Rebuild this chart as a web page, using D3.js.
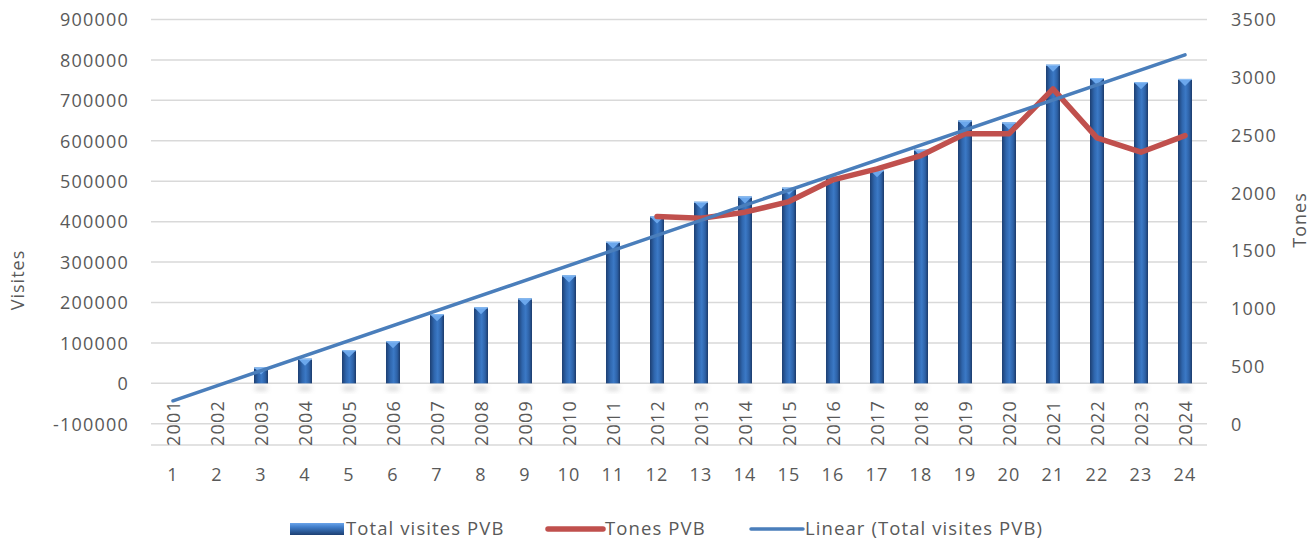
<!DOCTYPE html>
<html>
<head>
<meta charset="utf-8">
<script src="https://cdn.jsdelivr.net/npm/d3@7"></script>
<style>
  html, body { margin: 0; padding: 0; background: #fff; }
  svg { display: block; }
  text { font-family: "Open Sans", "Noto Sans", sans-serif; fill: #595959; }
</style>
</head>
<body>
<svg id="chart" width="1314" height="540"></svg>
<script>
// ---------------- DATA ----------------
const categories = ["1","2","3","4","5","6","7","8","9","10","11","12","13","14","15","16","17","18","19","20","21","22","23","24"];
const years = ["2001","2002","2003","2004","2005","2006","2007","2008","2009","2010","2011","2012","2013","2014","2015","2016","2017","2018","2019","2020","2021","2022","2023","2024"];
const visits = [0, 0, 39000, 61000, 82000, 104000, 171000, 188000, 210000, 267000, 350000, 413000, 449000, 462000, 484000, 512000, 527000, 578000, 650000, 645000, 788000, 755000, 745000, 753000];
const tones = [null, null, null, null, null, null, null, null, null, null, null, 1795, 1780, 1832, 1924, 2112, 2207, 2322, 2510, 2510, 2899, 2475, 2351, 2495];
const leftTicks = [-100000, 0, 100000, 200000, 300000, 400000, 500000, 600000, 700000, 800000, 900000];
const rightTicks = [0, 500, 1000, 1500, 2000, 2500, 3000, 3500];
const seriesNames = ["Total visites PVB", "Tones PVB", "Linear (Total visites PVB)"];
const axisTitles = { left: "Visites", right: "Tones" };

// ---------------- LAYOUT ----------------
const plot = { left: 151, right: 1207, top: 19.5, bottom: 423.8, axisLine: 445 };
const fontSize = 18;
const textColor = "#595959";
const gridColor = "#d9d9d9";
const redColor = "#c0504d";
const trendColor = "#4a7ebb";

const svg = d3.select("#chart");

const x = d3.scaleBand().domain(categories).range([plot.left, plot.right]).padding(0);
const cx = c => x(c) + x.bandwidth() / 2;
const yL = d3.scaleLinear().domain([-100000, 900000]).range([plot.bottom, plot.top]);
const yR = d3.scaleLinear().domain([0, 3500]).range([plot.bottom, plot.top]);

// defs
const defs = svg.append("defs");
const grad = defs.append("linearGradient").attr("id", "barGrad").attr("x1", "0").attr("x2", "1").attr("y1", "0").attr("y2", "0");
grad.append("stop").attr("offset", "0%").attr("stop-color", "#1d3f72");
grad.append("stop").attr("offset", "30%").attr("stop-color", "#2f66ad");
grad.append("stop").attr("offset", "55%").attr("stop-color", "#3b79c6");
grad.append("stop").attr("offset", "80%").attr("stop-color", "#2d61a6");
grad.append("stop").attr("offset", "100%").attr("stop-color", "#1b3a6a");
const legGrad = defs.append("linearGradient").attr("id", "legGrad").attr("x1", "0").attr("x2", "0").attr("y1", "0").attr("y2", "1");
legGrad.append("stop").attr("offset", "0%").attr("stop-color", "#6aa4ea");
legGrad.append("stop").attr("offset", "35%").attr("stop-color", "#3f7cc8");
legGrad.append("stop").attr("offset", "100%").attr("stop-color", "#1d3f72");
const blur = defs.append("filter").attr("id", "shadowBlur").attr("x", "-50%").attr("y", "-50%").attr("width", "200%").attr("height", "200%");
blur.append("feGaussianBlur").attr("stdDeviation", 2.5);

// gridlines
svg.append("g").selectAll("line").data(leftTicks).join("line")
  .attr("x1", plot.left).attr("x2", plot.right)
  .attr("y1", d => yL(d)).attr("y2", d => yL(d))
  .attr("stroke", gridColor).attr("stroke-width", 1.5);
svg.append("line")
  .attr("x1", plot.left).attr("x2", plot.right)
  .attr("y1", plot.axisLine).attr("y2", plot.axisLine)
  .attr("stroke", gridColor).attr("stroke-width", 1.5);

// left axis
const leftAxis = d3.axisLeft(yL).tickValues(leftTicks).tickFormat(d => String(d)).tickSize(0).tickPadding(0);
const gL = svg.append("g").attr("transform", `translate(129,0)`).call(leftAxis);
gL.select(".domain").remove();
gL.selectAll("text").attr("font-size", fontSize).attr("letter-spacing", "1.2px").style("fill", textColor).attr("dy", "0.35em");

// right axis
const rightAxis = d3.axisRight(yR).tickValues(rightTicks).tickFormat(d => String(d)).tickSize(0).tickPadding(0);
const gR = svg.append("g").attr("transform", `translate(1231,0)`).call(rightAxis);
gR.select(".domain").remove();
gR.selectAll("text").attr("font-size", fontSize).attr("letter-spacing", "1.2px").style("fill", textColor).attr("dy", "0.35em");

// axis titles
svg.append("text").attr("transform", `translate(24,280) rotate(-90)`)
  .attr("text-anchor", "middle").attr("font-size", fontSize).attr("letter-spacing", "1px").text(axisTitles.left);
svg.append("text").attr("transform", `translate(1300,220) rotate(-90)`)
  .attr("text-anchor", "middle").attr("font-size", fontSize).attr("letter-spacing", "1px").attr("dy", "0.35em").text(axisTitles.right);

// bar shadows
const barW = 14;
const barData = categories.map((c, i) => ({ c, v: visits[i] })).filter(d => d.v > 0);
svg.append("g").selectAll("ellipse").data(barData).join("ellipse")
  .attr("cx", d => cx(d.c)).attr("cy", yL(0) + 5)
  .attr("rx", barW / 2).attr("ry", 2.5)
  .attr("fill", "#a6a6a6").attr("opacity", 0.45).attr("filter", "url(#shadowBlur)");

// bars
const gBars = svg.append("g");
gBars.selectAll("rect").data(barData).join("rect")
  .attr("x", d => cx(d.c) - barW / 2).attr("width", barW)
  .attr("y", d => yL(d.v)).attr("height", d => yL(0) - yL(d.v))
  .attr("fill", "url(#barGrad)");
// top bevel caps
gBars.selectAll("path.cap").data(barData).join("path").attr("class", "cap")
  .attr("d", d => {
    const x0 = cx(d.c) - barW / 2, x1 = cx(d.c) + barW / 2, y0 = yL(d.v);
    return `M${x0},${y0} L${x1},${y0} L${x1 - 3},${y0 + 3} L${cx(d.c)},${y0 + 7} L${x0 + 3},${y0 + 3} Z`;
  })
  .attr("fill", "#6ba7ec");
gBars.selectAll("line.edge").data(barData).join("line").attr("class", "edge")
  .attr("x1", d => cx(d.c) - barW / 2).attr("x2", d => cx(d.c) + barW / 2)
  .attr("y1", d => yL(d.v) + 0.5).attr("y2", d => yL(d.v) + 0.5)
  .attr("stroke", "#8fc0f5").attr("stroke-width", 1);

// tones line
const tonesData = categories.map((c, i) => ({ c, v: tones[i] })).filter(d => d.v !== null);
svg.append("path").datum(tonesData)
  .attr("d", d3.line().x(d => cx(d.c)).y(d => yR(d.v)))
  .attr("fill", "none").attr("stroke", redColor).attr("stroke-width", 5.5)
  .attr("stroke-linejoin", "round").attr("stroke-linecap", "round");

// linear trend line (least squares on visits vs category index 1..n)
const n = visits.length;
const xs = d3.range(1, n + 1);
const mx = d3.mean(xs), my = d3.mean(visits);
const slope = d3.sum(xs, (xi, i) => (xi - mx) * (visits[i] - my)) / d3.sum(xs, xi => (xi - mx) ** 2);
const intercept = my - slope * mx;
const trendData = [categories[0], categories[n - 1]].map(c => ({ c, v: intercept + slope * (+c) }));
svg.append("path").datum(trendData)
  .attr("d", d3.line().x(d => cx(d.c)).y(d => yL(d.v)))
  .attr("fill", "none").attr("stroke", trendColor).attr("stroke-width", 3.5)
  .attr("stroke-linecap", "round");

// year labels (rotated)
svg.append("g").selectAll("text").data(years).join("text")
  .attr("transform", (d, i) => `translate(${cx(categories[i]) + 1},423) rotate(-90)`)
  .attr("text-anchor", "middle").attr("dy", "0.35em")
  .attr("font-size", fontSize).attr("letter-spacing", "1.2px").text(d => d);

// category labels
svg.append("g").selectAll("text").data(categories).join("text")
  .attr("x", d => cx(d)).attr("y", 475).attr("dy", "0.35em")
  .attr("text-anchor", "middle").attr("font-size", fontSize).attr("letter-spacing", "1.2px").text(d => d);

// legend
const leg = svg.append("g");
const legY = 529;
const legFont = 18.5, legLS = "1.1px";
// item 1
leg.append("rect").attr("x", 290).attr("y", legY - 6).attr("width", 54).attr("height", 12).attr("fill", "url(#legGrad)");
leg.append("text").attr("x", 346).attr("y", legY).attr("dy", "0.35em").attr("font-size", legFont).attr("letter-spacing", legLS).text(seriesNames[0]);
// item 2
leg.append("line").attr("x1", 548).attr("x2", 603).attr("y1", legY).attr("y2", legY)
  .attr("stroke", redColor).attr("stroke-width", 5.5).attr("stroke-linecap", "round");
leg.append("text").attr("x", 605).attr("y", legY).attr("dy", "0.35em").attr("font-size", legFont).attr("letter-spacing", legLS).text(seriesNames[1]);
// item 3
leg.append("line").attr("x1", 751).attr("x2", 803).attr("y1", legY).attr("y2", legY)
  .attr("stroke", trendColor).attr("stroke-width", 3.5).attr("stroke-linecap", "round");
leg.append("text").attr("x", 805).attr("y", legY).attr("dy", "0.35em").attr("font-size", legFont).attr("letter-spacing", legLS).text(seriesNames[2]);
</script>
</body>
</html>
